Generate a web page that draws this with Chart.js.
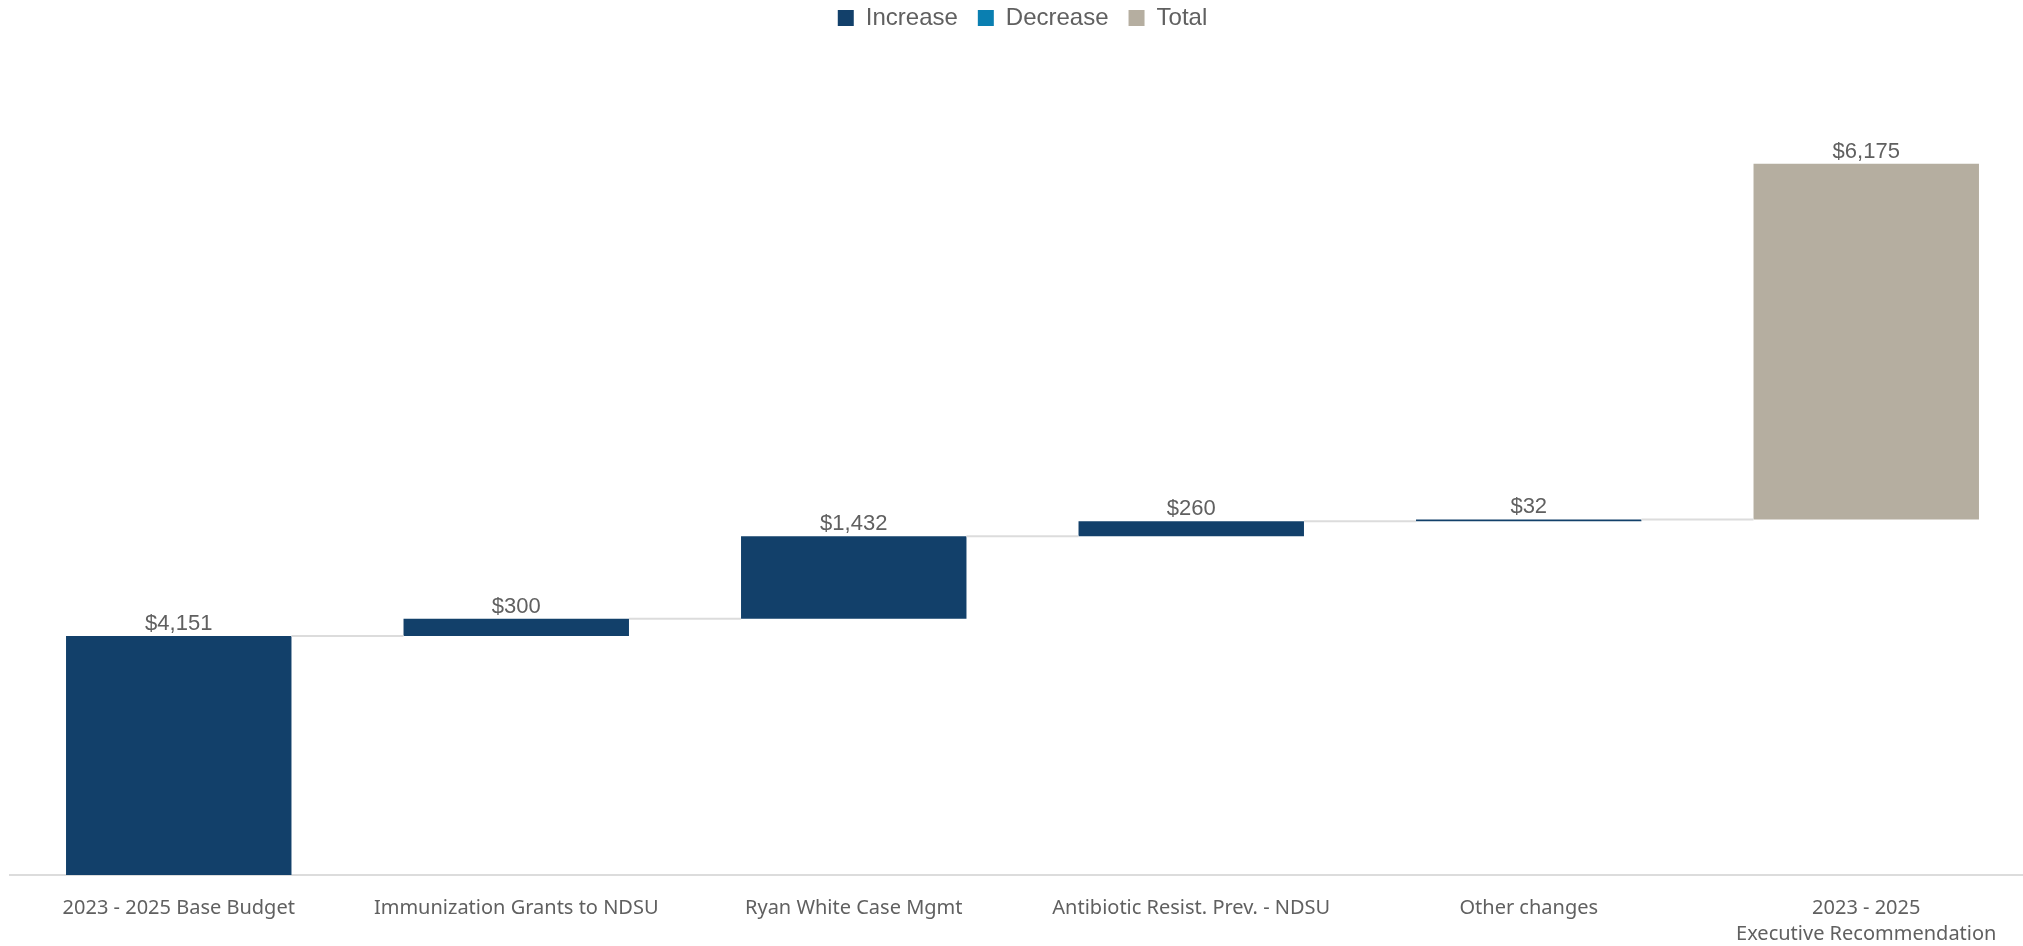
<!DOCTYPE html>
<html>
<head>
<meta charset="utf-8">
<script src="https://cdn.jsdelivr.net/npm/chart.js@4.4.1/dist/chart.umd.min.js"></script>
<style>
  html, body { margin: 0; padding: 0; background: #fff; overflow: hidden; }
  #wrap { position: absolute; left: 0; top: -14px; width: 2048px; height: 984px; }
</style>
</head>
<body>
<div id="wrap"><canvas id="waterfall"></canvas></div>
<script>
// --- data (thousands of $) ---
const categories = [
  '2023 - 2025 Base Budget',
  'Immunization Grants to NDSU',
  'Ryan White Case Mgmt',
  'Antibiotic Resist. Prev. - NDSU',
  'Other changes',
  ['2023 - 2025', 'Executive Recommendation']
]
const changes = [4151, 300, 1432, 260, 32]   // increase steps
const totalValue = 6175                        // executive recommendation
const yTicks = { min: 0, max: 14500 }

const colors = {
  increase: '#12406a',
  decrease: '#0a7fb1',
  total: '#b5aea0',
  connector: '#dcdcdc',
  text: '#606060'
}

// build floating ranges: each step starts where the previous ended
let running = 0
const ranges = changes.map(v => {
  const r = [running, running + v]
  running += v
  return r
})
// total bar sits on the running level in the source picture
ranges.push([running, running + totalValue])
const labelValues = [...changes, totalValue]
const barColors = [...changes.map(v => v >= 0 ? colors.increase : colors.decrease), colors.total]

// draws connector lines between bars and the $ labels above them
const waterfallExtras = {
  id: 'waterfallExtras',
  afterDatasetsDraw(chart) {
    const { ctx, scales: { y } } = chart
    const bars = chart.getDatasetMeta(0).data
    ctx.save()
    // connectors
    ctx.strokeStyle = colors.connector
    ctx.lineWidth = 2
    for (let i = 0; i < bars.length - 1; i++) {
      const level = y.getPixelForValue(ranges[i][1])
      const a = bars[i], b = bars[i + 1]
      ctx.beginPath()
      ctx.moveTo(a.x + a.width / 2, level)
      ctx.lineTo(b.x - b.width / 2, level)
      ctx.stroke()
    }
    // value labels
    ctx.fillStyle = colors.text
    ctx.font = '22px "Liberation Sans", Arial, sans-serif'
    ctx.textAlign = 'center'
    ctx.textBaseline = 'bottom'
    bars.forEach((bar, i) => {
      const top = Math.min(bar.y, bar.base)
      ctx.fillText('$' + labelValues[i].toLocaleString('en-US'), bar.x, top - 1)
    })
    ctx.restore()
  }
}

const chart = new Chart(document.getElementById('waterfall'), {
  type: 'bar',
  data: {
    labels: categories,
    datasets: [{
      label: 'Waterfall',
      data: ranges,
      backgroundColor: barColors,
      borderWidth: 0,
      borderSkipped: false,
      categoryPercentage: 1,
      barPercentage: 0.668
    }]
  },
  options: {
    responsive: true,
    maintainAspectRatio: false,
    animation: false,
    layout: { padding: { left: 10, right: 13, top: 0, bottom: 3 } },
    scales: {
      x: {
        grid: { display: false, drawTicks: false },
        border: { display: true, color: '#dcdcdc', width: 2 },
        ticks: {
          color: colors.text,
          padding: 20,
          maxRotation: 0,
          autoSkip: false,
          font: { family: '"Noto Sans", "Open Sans", sans-serif', size: 20, lineHeight: 1.3 }
        }
      },
      y: {
        display: false,
        min: yTicks.min,
        max: yTicks.max
      }
    },
    plugins: {
      tooltip: { enabled: false },
      legend: {
        position: 'top',
        labels: {
          boxWidth: 16,
          boxHeight: 16,
          padding: 20,
          color: colors.text,
          font: { family: '"Liberation Sans", Arial, sans-serif', size: 24 },
          generateLabels: () => [
            { text: 'Increase', fillStyle: colors.increase, strokeStyle: colors.increase, lineWidth: 0, fontColor: colors.text },
            { text: 'Decrease', fillStyle: colors.decrease, strokeStyle: colors.decrease, lineWidth: 0, fontColor: colors.text },
            { text: 'Total', fillStyle: colors.total, strokeStyle: colors.total, lineWidth: 0, fontColor: colors.text }
          ]
        },
        onClick: null
      }
    }
  },
  plugins: [waterfallExtras]
})
</script>
</body>
</html>
